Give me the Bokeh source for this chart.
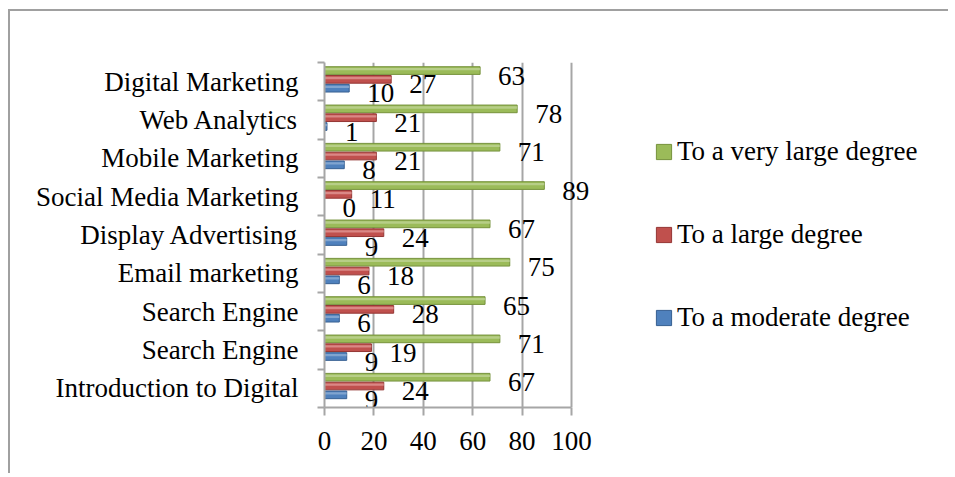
from bokeh.plotting import figure
from bokeh.models import FixedTicker, Legend, LegendItem, Range1d
from bokeh.embed import file_html
from bokeh.resources import INLINE
from bokeh.core.properties import value

categories = ["Digital Marketing", "Web Analytics", "Mobile Marketing",
              "Social Media Marketing", "Display Advertising", "Email marketing",
              "Search Engine", "Search Engine", "Introduction to Digital"]
moderate = [10, 1, 8, 0, 9, 6, 6, 9, 9]
large = [27, 21, 21, 11, 24, 18, 28, 19, 24]
very_large = [63, 78, 71, 89, 67, 75, 65, 71, 67]
x_ticks = [0, 20, 40, 60, 80, 100]
series_names = ["To a very large degree", "To a large degree", "To a moderate degree"]

n = len(categories)
centers = [n - i - 0.5 for i in range(n)]

FONT = value("Liberation Serif")
GRAY = "#a6a6a6"

W, H = 940, 464
LEFT, TOP, BOTTOM = 314, 51, 68
X_END = (W - LEFT) / 2.47  # frame extends past 100 to make room for legend

p = figure(width=W, height=H, output_backend="svg", toolbar_location=None,
           x_range=Range1d(0, X_END), y_range=Range1d(0, n),
           min_border_left=LEFT, min_border_right=0,
           min_border_top=TOP, min_border_bottom=BOTTOM)
p.styles = {"border-top": "2px solid #a0a0a0", "border-left": "2px solid #a0a0a0",
            "margin-left": "8px", "margin-top": "9px"}
p.outline_line_color = None
p.background_fill_color = "white"
p.border_fill_color = "white"

# x axis
p.xaxis.ticker = FixedTicker(ticks=x_ticks)
p.xaxis.bounds = (0, 100)
p.xaxis.axis_line_color = GRAY
p.xaxis.axis_line_width = 2
p.xaxis.major_tick_line_color = GRAY
p.xaxis.major_tick_line_width = 2
p.xaxis.major_tick_in = 0
p.xaxis.major_tick_out = 8
p.xaxis.minor_tick_line_color = None
p.xaxis.major_label_text_font = "Liberation Serif"
p.xaxis.major_label_text_font_size = "27px"
p.xaxis.major_label_text_color = "black"
p.xaxis.major_label_standoff = 16

# y axis: labels at band centres, ticks at band boundaries
p.yaxis.ticker = FixedTicker(ticks=centers, minor_ticks=list(range(n + 1)))
p.yaxis.major_label_overrides = {c: categories[i] for i, c in enumerate(centers)}
p.yaxis.axis_line_color = GRAY
p.yaxis.axis_line_width = 2
p.yaxis.major_tick_line_color = None
p.yaxis.major_tick_in = 0
p.yaxis.major_tick_out = 0
p.yaxis.minor_tick_line_color = GRAY
p.yaxis.minor_tick_line_width = 2
p.yaxis.minor_tick_in = 0
p.yaxis.minor_tick_out = 7
p.yaxis.major_label_text_font = "Liberation Serif"
p.yaxis.major_label_text_font_size = "27px"
p.yaxis.major_label_text_color = "black"
p.yaxis.major_label_standoff = 19

p.xgrid.grid_line_color = GRAY
p.xgrid.grid_line_width = 2
p.ygrid.grid_line_color = None

series = [
    (very_large, "#9bbb59", "#76923c", "#c3d69b", 0.29),
    (large, "#c0504d", "#943634", "#e6a09e", 0.06),
    (moderate, "#4f81bd", "#365f91", "#95b3d7", -0.17),
]
BH = 0.2
renderers = []
for vals, fill, line, light, off in series:
    ys = [c + off for c in centers]
    r = p.hbar(y=ys, left=0, right=vals, height=BH, fill_color=fill,
               line_color=line, line_width=1)
    p.hbar(y=[y + BH * 0.18 for y in ys], left=0, right=vals, height=BH * 0.3,
           fill_color=light, fill_alpha=0.7, line_color=None)
    p.text(x=vals, y=ys, text=[str(v) for v in vals], x_offset=18, y_offset=5,
           text_align="left", text_baseline="middle", text_font=FONT,
           text_font_size="27px", text_color="black")
    renderers.append(r)

legend = Legend(items=[LegendItem(label=series_names[i], renderers=[renderers[i]])
                       for i in range(3)],
                location=(330, 74), orientation="vertical",
                glyph_width=19, glyph_height=19, label_standoff=4,
                label_text_font="Liberation Serif", label_text_font_size="27px",
                label_text_color="black", label_height=32, spacing=51,
                padding=0, margin=0, border_line_color=None,
                background_fill_alpha=0)
p.add_layout(legend, "center")

open("out.html", "w").write(file_html(p, INLINE))
